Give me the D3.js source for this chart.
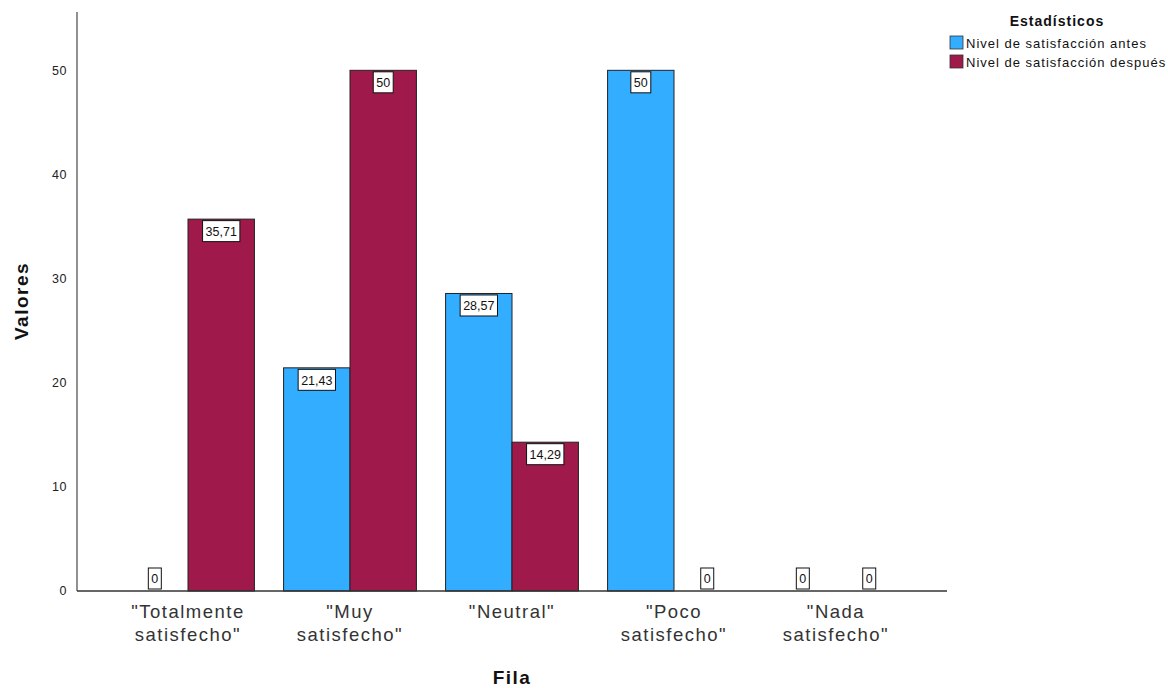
<!DOCTYPE html>
<html>
<head>
<meta charset="utf-8">
<script src="https://cdn.jsdelivr.net/npm/d3@7"></script>
<style>
  body { margin: 0; background: #fff; }
  text { font-family: Arial, "Liberation Sans", sans-serif; }
</style>
</head>
<body>
<svg width="1168" height="688"></svg>
<script>
// data
const categories = ["\"Totalmente satisfecho\"", "\"Muy satisfecho\"", "\"Neutral\"", "\"Poco satisfecho\"", "\"Nada satisfecho\""];
const catLines = [["\"Totalmente", "satisfecho\""], ["\"Muy", "satisfecho\""], ["\"Neutral\""], ["\"Poco", "satisfecho\""], ["\"Nada", "satisfecho\""]];
const seriesNames = ["Nivel de satisfacción antes", "Nivel de satisfacción después"];
const antes = [0, 21.43, 28.57, 50, 0];
const despues = [35.71, 50, 14.29, 0, 0];
const yTicks = [0, 10, 20, 30, 40, 50];
const colors = ["#33adff", "#a0194b"];

const svg = d3.select("svg");
const axisX0 = 77, axisX1 = 947, plotTop = 12, plotBottom = 591;

const x = d3.scaleBand().domain(categories).range([107, 917]).paddingInner(0.18).paddingOuter(0.09);
const xs = d3.scaleBand().domain(seriesNames).range([0, x.bandwidth()]);
const y = d3.scaleLinear().domain([0, 55.6]).range([plotBottom, plotTop]);

const fmt = v => String(v).replace(".", ",");

// y axis
svg.append("line").attr("x1", axisX0).attr("x2", axisX0).attr("y1", plotTop).attr("y2", plotBottom)
  .attr("stroke", "#555").attr("stroke-width", 1.3);
svg.append("g").selectAll("text").data(yTicks).join("text")
  .attr("x", 67).attr("y", d => y(d)).attr("dy", "0.35em")
  .attr("text-anchor", "end").attr("font-size", 12.5).attr("fill", "#222")
  .attr("letter-spacing", 0.5)
  .text(d => d);

// bars
const rows = categories.map((c, i) => [
  { cat: c, s: seriesNames[0], v: antes[i], c: colors[0] },
  { cat: c, s: seriesNames[1], v: despues[i], c: colors[1] }
]).flat();

svg.append("g").selectAll("rect").data(rows.filter(d => d.v > 0)).join("rect")
  .attr("x", d => x(d.cat) + xs(d.s))
  .attr("y", d => y(d.v))
  .attr("width", xs.bandwidth())
  .attr("height", d => y(0) - y(d.v))
  .attr("fill", d => d.c)
  .attr("stroke", "#222").attr("stroke-width", 1);

// x axis line
svg.append("line").attr("x1", axisX0).attr("x2", axisX1).attr("y1", plotBottom).attr("y2", plotBottom)
  .attr("stroke", "#333").attr("stroke-width", 1.3);

// value labels
const lab = svg.append("g").selectAll("g").data(rows).join("g")
  .attr("transform", d => {
    const cx = x(d.cat) + xs(d.s) + xs.bandwidth() / 2;
    const ty = d.v > 0 ? y(d.v) + 1.5 : y(0) - 23;
    return `translate(${cx},${ty})`;
  });
lab.append("text")
  .attr("y", 11).attr("dy", "0.35em").attr("text-anchor", "middle")
  .attr("font-size", 12.5).attr("fill", "#111")
  .text(d => fmt(d.v));
lab.each(function () {
  const g = d3.select(this);
  const bb = g.select("text").node().getBBox();
  g.insert("rect", "text")
    .attr("x", bb.x - 3).attr("y", 0)
    .attr("width", bb.width + 6).attr("height", 21)
    .attr("fill", "#fff").attr("stroke", "#111").attr("stroke-width", 1);
});

// category labels
const cl = svg.append("g").selectAll("text").data(categories).join("text")
  .attr("x", d => x(d) + x.bandwidth() / 2)
  .attr("y", 618)
  .attr("text-anchor", "middle").attr("font-size", 18.5).attr("fill", "#333")
  .attr("letter-spacing", 1.5);
cl.selectAll("tspan").data((d, i) => catLines[i]).join("tspan")
  .attr("x", function () { return d3.select(this.parentNode).attr("x"); })
  .attr("dy", (d, i) => i === 0 ? 0 : 23)
  .text(d => d);

// axis titles
svg.append("text").attr("x", 512).attr("y", 684).attr("text-anchor", "middle")
  .attr("font-size", 19).attr("font-weight", "bold").attr("fill", "#111")
  .attr("letter-spacing", 1.5).text("Fila");
svg.append("text").attr("transform", "translate(28,301) rotate(-90)").attr("text-anchor", "middle")
  .attr("font-size", 19).attr("font-weight", "bold").attr("fill", "#111")
  .attr("letter-spacing", 1.5).text("Valores");

// legend
const legend = svg.append("g");
legend.append("text").attr("x", 1057).attr("y", 26).attr("text-anchor", "middle")
  .attr("font-size", 14).attr("font-weight", "bold").attr("fill", "#111")
  .attr("letter-spacing", 1).text("Estadísticos");
const li = legend.selectAll("g").data(seriesNames).join("g")
  .attr("transform", (d, i) => `translate(950,${36 + i * 19})`);
li.append("rect").attr("width", 13).attr("height", 13)
  .attr("fill", (d, i) => colors[i]).attr("stroke", "#333").attr("stroke-width", 0.8);
li.append("text").attr("x", 16).attr("y", 7).attr("dy", "0.35em")
  .attr("font-size", 13).attr("fill", "#111").attr("letter-spacing", 1).text(d => d);
</script>
</body>
</html>
